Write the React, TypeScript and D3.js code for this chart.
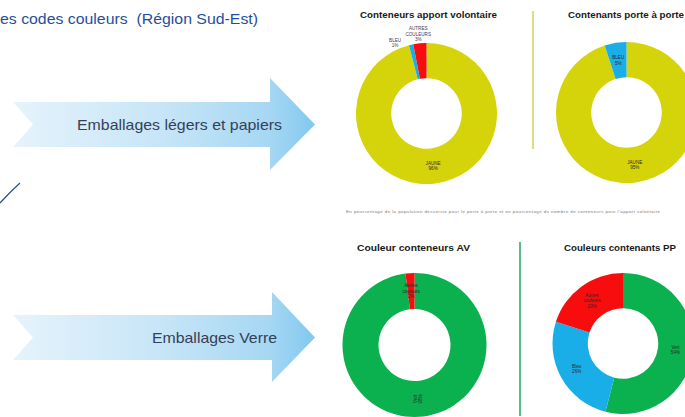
import React from "react";
import * as d3 from "d3";

// ---- Data ----
const chart1Title = "Conteneurs apport volontaire";
const chart1Labels = ["JAUNE", "BLEU", "AUTRES COULEURS"];
const chart1Values = [96, 1, 3];

const chart2Title = "Contenants porte à porte";
const chart2Labels = ["JAUNE", "BLEU"];
const chart2Values = [95, 5];

const chart3Title = "Couleur conteneurs AV";
const chart3Labels = ["Vert", "Autres couleurs"];
const chart3Values = [98, 2];

const chart4Title = "Couleurs contenants PP";
const chart4Labels = ["Vert", "Bleu", "Autres couleurs"];
const chart4Values = [54, 26, 20];

const headerText = "es codes couleurs  (Région Sud-Est)";
const arrow1Text = "Emballages légers et papiers";
const arrow2Text = "Emballages Verre";
const footnoteText =
  "En pourcentage de la population desservie pour le porte à porte et en pourcentage du nombre de conteneurs pour l'apport volontaire";

// ---- Styles ----
const colorMap: Record<string, string> = {
  JAUNE: "#d5d40a",
  BLEU: "#19aee8",
  "AUTRES COULEURS": "#f70d0d",
  Vert: "#0bb04f",
  Bleu: "#19aee8",
  "Autres couleurs": "#f70d0d",
};

type DonutProps = {
  title: string;
  labels: string[];
  values: number[];
  cx: number;
  cy: number;
  r: number;
  titleX: number;
  titleY: number;
  titleW: number;
  outsideSmall?: boolean;
  labelOffsets?: Record<number, [number, number]>;
  rotateIdx?: number[];
};

function Donut({ title, labels, values, cx, cy, r, titleX, titleY, titleW, outsideSmall, labelOffsets, rotateIdx }: DonutProps) {
  const pie = d3.pie<number>().sort(null).value((d) => d);
  const arcs = pie(values);
  const arc = d3.arc<d3.PieArcDatum<number>>().innerRadius(r * 0.5).outerRadius(r);
  const labelArc = d3.arc<d3.PieArcDatum<number>>().innerRadius(r * 0.75).outerRadius(r * 0.75);
  const outArc = d3.arc<d3.PieArcDatum<number>>().innerRadius(r * 1.1).outerRadius(r * 1.1);
  return (
    <g>
      <text x={titleX - titleW / 2} y={titleY} dominantBaseline="central"
        fontFamily="Liberation Sans, Arial, sans-serif" fontWeight="bold" fontSize={9.2} fill="#1a1a1a"
        textLength={titleW} lengthAdjust="spacingAndGlyphs">
        {title}
      </text>
      <g transform={`translate(${cx},${cy})`}>
        {arcs.map((a, i) => (
          <path key={i} d={arc(a) || ""} fill={colorMap[labels[i]]} />
        ))}
        {arcs.map((a, i) => {
          const small = outsideSmall && values[i] < 4;
          let [x, y] = small ? outArc.centroid(a) : labelArc.centroid(a);
          const off = labelOffsets && labelOffsets[i];
          if (off) { x += off[0]; y += off[1]; }
          const lines = labels[i].split(" ").concat([`${values[i]}%`]);
          const lh = 5.4;
          const rot = rotateIdx && rotateIdx.includes(i);
          return (
            <text key={i} transform={`translate(${x},${y})${rot ? " rotate(-90)" : ""}`} textAnchor="middle"
              fontFamily="Liberation Sans, Arial, sans-serif" fontSize={4.6} fill={small ? "#3a3a5a" : "#2a2a2a"}>
              {lines.map((l, k) => (
                <tspan key={k} x={0} y={(k - (lines.length - 1) / 2) * lh + 1.6}>{l}</tspan>
              ))}
            </text>
          );
        })}
      </g>
    </g>
  );
}

function Arrow({ x0, notch, xh, xt, yTop, yBot, headTop, headBot, text, textX0, textX1, id }: any) {
  const yMid = (yTop + yBot) / 2;
  const p = d3.path();
  p.moveTo(x0, yTop);
  p.lineTo(xh, yTop);
  p.lineTo(xh, headTop);
  p.lineTo(xt, yMid);
  p.lineTo(xh, headBot);
  p.lineTo(xh, yBot);
  p.lineTo(x0, yBot);
  p.lineTo(notch, yMid);
  p.closePath();
  return (
    <g>
      <defs>
        <linearGradient id={id} x1="0" x2="1" y1="0" y2="0">
          <stop offset="0" stopColor="#e6f3fb" />
          <stop offset="0.5" stopColor="#c6e5f7" />
          <stop offset="0.85" stopColor="#a6d7f3" />
          <stop offset="1" stopColor="#82c8ef" />
        </linearGradient>
      </defs>
      <path d={p.toString()} fill={`url(#${id})`} />
      <text x={textX0} y={yMid} dominantBaseline="central"
        fontFamily="Liberation Sans, Arial, sans-serif" fontSize={15} fill="#34405a"
        textLength={textX1 - textX0} lengthAdjust="spacingAndGlyphs">
        {text}
      </text>
    </g>
  );
}

export default function App() {
  return (
    <svg width={685} height={417} style={{ position: "absolute", left: 0, top: 0, background: "#fff" }}>
      <rect width={685} height={417} fill="#ffffff" />
      <text x={0} y={18} dominantBaseline="central" fontFamily="Liberation Sans, Arial, sans-serif"
        fontSize={15} fill="#1f4f9c" style={{ whiteSpace: "pre" }} textLength={258} lengthAdjust="spacingAndGlyphs">
        {headerText}
      </text>

      <Arrow id="g1" x0={13} notch={33} xh={270} xt={315} yTop={102} yBot={147} headTop={78} headBot={170}
        text={arrow1Text} textX0={77} textX1={282} />
      <Arrow id="g2" x0={13} notch={33} xh={272} xt={315} yTop={315} yBot={360} headTop={292} headBot={382}
        text={arrow2Text} textX0={152} textX1={277} />

      <path d="M0,203 Q10,192 20,183" fill="none" stroke="#2a4f8a" strokeWidth={1.2} />

      <line x1={533} x2={533} y1={11} y2={149} stroke="#d9d36c" strokeWidth={1.6} />
      <line x1={520} x2={520} y1={242} y2={416} stroke="#2fae68" strokeWidth={1.6} />

      <Donut title={chart1Title} labels={chart1Labels} values={chart1Values} cx={426.5} cy={113.5} r={70.5}
        titleX={428.5} titleY={15} titleW={137} outsideSmall labelOffsets={{ 1: [-14.5, 5], 2: [-1, -2] }} />
      <Donut title={chart2Title} labels={chart2Labels} values={chart2Values} cx={626.5} cy={112.5} r={70.5}
        titleX={626} titleY={15} titleW={116} />

      <text x={346} y={211} dominantBaseline="central" fontFamily="Liberation Sans, Arial, sans-serif"
        fontSize={4.4} fill="#7a7a7a" textLength={314}>
        {footnoteText}
      </text>

      <Donut title={chart3Title} labels={chart3Labels} values={chart3Values} cx={414.5} cy={345} r={72}
        titleX={413.5} titleY={248} titleW={113} rotateIdx={[0]} />
      <Donut title={chart4Title} labels={chart4Labels} values={chart4Values} cx={623} cy={343.5} r={70.5}
        titleX={620} titleY={248} titleW={112} />
    </svg>
  );
}
